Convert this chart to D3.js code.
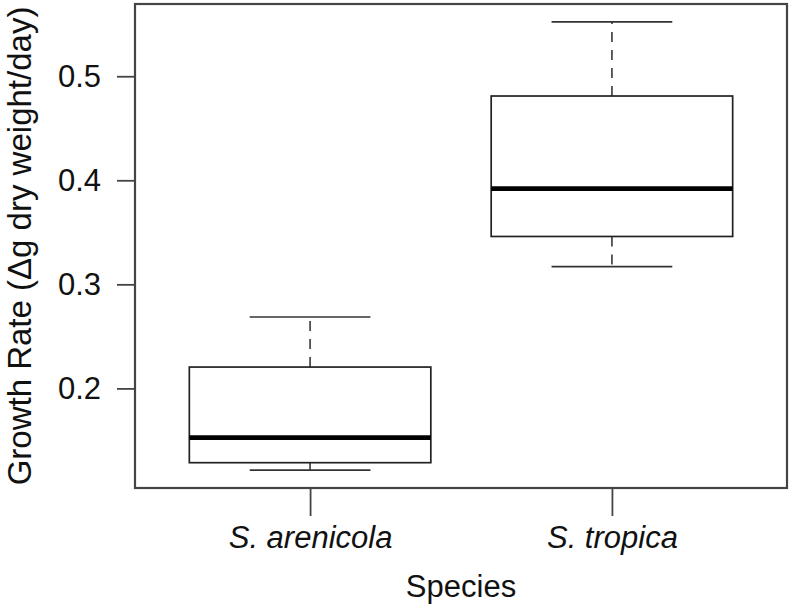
<!DOCTYPE html>
<html>
<head>
<meta charset="utf-8">
<script src="https://cdn.jsdelivr.net/npm/d3@7"></script>
<style>
  body { margin: 0; background: #fff; }
  text { font-family: "Liberation Sans", Arial, sans-serif; fill: #111; }
</style>
</head>
<body>
<div id="vis"></div>
<script>
// Frame
const FRAME_WIDTH = 789;
const FRAME_HEIGHT = 607;
const MARGINS = {left: 135, right: 2, top: 4, bottom: 119};

// Data
const species = ["S. arenicola", "S. tropica"];
const whiskerLow  = [0.1215, 0.317];
const boxLow      = [0.1286, 0.346];
const medians     = [0.1526, 0.392];
const boxHigh     = [0.2205, 0.481];
const whiskerHigh = [0.2686, 0.5522];
const yTicks = [0.2, 0.3, 0.4, 0.5];

const boxes = species.map((s, i) => ({
  name: s, pos: i + 1,
  lo: whiskerLow[i], q1: boxLow[i], med: medians[i], q3: boxHigh[i], hi: whiskerHigh[i]
}));

const FRAME = d3.select("#vis")
  .append("svg")
    .attr("width", FRAME_WIDTH)
    .attr("height", FRAME_HEIGHT);

// R style ranges: 4% padding
const X_SCALE = d3.scaleLinear()
  .domain([0.42, 2.58])
  .range([MARGINS.left, FRAME_WIDTH - MARGINS.right]);

const dataMin = d3.min(whiskerLow), dataMax = d3.max(whiskerHigh);
const pad = (dataMax - dataMin) * 0.04;
const Y_SCALE = d3.scaleLinear()
  .domain([dataMin - pad, dataMax + pad])
  .range([FRAME_HEIGHT - MARGINS.bottom, MARGINS.top]);

const lineColor = "#222";
const halfBox = 0.4, halfCap = 0.2;

const g = FRAME.selectAll(".box")
  .data(boxes)
  .enter()
  .append("g");

// dashed whiskers
g.append("line")
  .attr("x1", d => X_SCALE(d.pos)).attr("x2", d => X_SCALE(d.pos))
  .attr("y1", d => Y_SCALE(d.q3)).attr("y2", d => Y_SCALE(d.hi))
  .attr("stroke", "#444").attr("stroke-width", 1.7).attr("stroke-dasharray", "10,8");
g.append("line")
  .attr("x1", d => X_SCALE(d.pos)).attr("x2", d => X_SCALE(d.pos))
  .attr("y1", d => Y_SCALE(d.q1)).attr("y2", d => Y_SCALE(d.lo))
  .attr("stroke", "#444").attr("stroke-width", 1.7).attr("stroke-dasharray", "10,8");

// caps
["lo", "hi"].forEach(k => {
  g.append("line")
    .attr("x1", d => X_SCALE(d.pos - halfCap)).attr("x2", d => X_SCALE(d.pos + halfCap))
    .attr("y1", d => Y_SCALE(d[k])).attr("y2", d => Y_SCALE(d[k]))
    .attr("stroke", "#333").attr("stroke-width", 1.7);
});

// boxes
g.append("rect")
  .attr("x", d => X_SCALE(d.pos - halfBox))
  .attr("width", d => X_SCALE(d.pos + halfBox) - X_SCALE(d.pos - halfBox))
  .attr("y", d => Y_SCALE(d.q3))
  .attr("height", d => Y_SCALE(d.q1) - Y_SCALE(d.q3))
  .attr("fill", "white").attr("stroke", lineColor).attr("stroke-width", 1.7);

// medians
g.append("line")
  .attr("x1", d => X_SCALE(d.pos - halfBox)).attr("x2", d => X_SCALE(d.pos + halfBox))
  .attr("y1", d => Y_SCALE(d.med)).attr("y2", d => Y_SCALE(d.med))
  .attr("stroke", "#000").attr("stroke-width", 4.8);

// axes
const yAxis = FRAME.append("g")
  .attr("transform", "translate(" + MARGINS.left + ",0)")
  .call(d3.axisLeft(Y_SCALE).tickValues(yTicks).tickFormat(d3.format(".1f")).tickSize(18).tickPadding(16));
const xAxis = FRAME.append("g")
  .attr("transform", "translate(0," + (FRAME_HEIGHT - MARGINS.bottom) + ")")
  .call(d3.axisBottom(X_SCALE).tickValues([1, 2]).tickFormat(d => species[d - 1]).tickSize(28).tickPadding(10));

[yAxis, xAxis].forEach(ax => {
  ax.select(".domain").remove();
  ax.selectAll(".tick line").attr("stroke", "#444").attr("stroke-width", 1.8);
  ax.selectAll(".tick text").attr("font-size", "31px").attr("fill", "#111")
    .style("font-family", "'Liberation Sans', Arial, sans-serif");
});
xAxis.selectAll(".tick text").attr("font-style", "italic");

// plot border
FRAME.append("rect")
  .attr("x", MARGINS.left).attr("y", MARGINS.top)
  .attr("width", FRAME_WIDTH - MARGINS.left - MARGINS.right)
  .attr("height", FRAME_HEIGHT - MARGINS.top - MARGINS.bottom)
  .attr("fill", "none").attr("stroke", "#444").attr("stroke-width", 2.2);

// axis titles
FRAME.append("text")
  .attr("x", (MARGINS.left + FRAME_WIDTH - MARGINS.right) / 2)
  .attr("y", 597)
  .attr("text-anchor", "middle")
  .attr("font-size", "31px")
  .text("Species");

FRAME.append("text")
  .attr("transform", "translate(31," + ((MARGINS.top + FRAME_HEIGHT - MARGINS.bottom) / 2) + ") rotate(-90)")
  .attr("text-anchor", "middle")
  .attr("font-size", "33px")
  .text("Growth Rate (\u0394g dry weight/day)");
</script>
</body>
</html>
